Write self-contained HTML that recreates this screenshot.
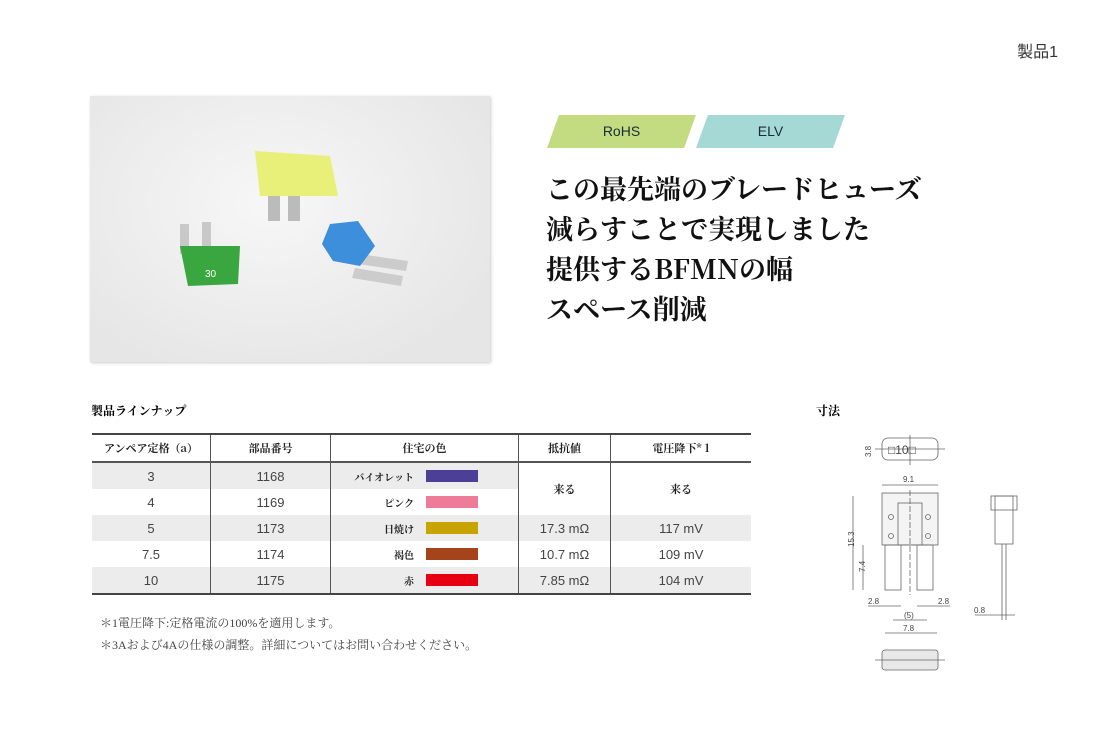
<!DOCTYPE html>
<html><head><meta charset="utf-8"><style>
body{margin:0;width:1098px;height:739px;background:#fff;position:relative;font-family:"Liberation Serif","Noto Serif CJK SC",serif;overflow:hidden}
.abs{position:absolute}
.badge{position:absolute;top:115px;height:33px;width:149px;font:14px "Liberation Sans","Noto Sans CJK JP",sans-serif;color:#1a2a3a;text-align:center;line-height:33px}
h1{position:absolute;left:546px;top:168px;margin:0;font:bold 27px/40px "Noto Serif CJK SC","Liberation Serif",serif;color:#111;letter-spacing:0px}
table{position:absolute;left:92px;top:433px;width:659px;border-collapse:collapse;font-size:13px;color:#222}
td,th{text-align:center;height:26px;padding:0;border-left:1px solid #555}
td:first-child,th:first-child{border-left:none}
th{font-weight:bold;font-size:11px;height:26px;border-bottom:2px solid #555;font-family:"Noto Serif CJK SC",serif}
table{border-top:2px solid #444;border-bottom:2px solid #444}
tr.g td.gr{background:#ececec}
td.n{font-family:"Liberation Sans","Noto Sans CJK JP",sans-serif;color:#444}
.c{display:flex;justify-content:flex-end;align-items:center;padding-right:40px;font-size:10px;font-weight:bold;font-family:"Noto Serif CJK SC",serif}
.c span{display:inline-block;width:52px;height:12px;margin-left:12px}
</style></head><body>
<div class="abs" style="right:40px;top:38px;font:16px 'Liberation Sans','Noto Sans CJK JP',sans-serif;color:#333">製品1</div>
<div class="abs" style="left:90px;top:96px;width:400px;height:266px;background:radial-gradient(ellipse at 45% 40%,#f7f7f7,#e6e6e6 80%);box-shadow:1px 1px 3px #ccc"></div>
<svg class="abs" style="left:90px;top:96px" width="400" height="266">
<rect x="178" y="100" width="12" height="25" fill="#bbb"/><rect x="198" y="100" width="12" height="25" fill="#bbb"/>
<path d="M165 55 L240 60 L248 100 L170 100 Z" fill="#e8f07a"/>
<rect x="90" y="128" width="9" height="30" fill="#c8c8c8"/><rect x="112" y="126" width="9" height="30" fill="#c8c8c8"/>
<path d="M90 150 L150 150 L148 188 L98 190 Z" fill="#3aa63f"/><text x="115" y="181" font-size="10" fill="#fff" font-family="Liberation Sans">30</text>
<path d="M270 158 L318 165 L316 175 L268 168 Z" fill="#ccc"/><path d="M265 172 L313 180 L311 190 L262 182 Z" fill="#ccc"/>
<path d="M240 128 L268 125 L285 150 L270 170 L243 165 L232 148 Z" fill="#3d8fdc"/>
</svg>
<div class="badge" style="left:547px;background:#c3dc82;clip-path:polygon(8% 0,100% 0,92% 100%,0 100%)">RoHS</div>
<div class="badge" style="left:696px;background:#a5d9d6;clip-path:polygon(8% 0,100% 0,92% 100%,0 100%)">ELV</div>
<h1>この最先端のブレードヒューズ<br>減らすことで実現しました<br>提供するBFMNの幅<br>スペース削減</h1>
<div class="abs" style="left:91px;top:402px;font-size:12px;font-weight:bold;font-family:'Noto Serif CJK SC',serif">製品ラインナップ</div>
<div class="abs" style="left:816px;top:402px;font-size:12px;font-weight:bold;font-family:'Noto Serif CJK SC',serif">寸法</div>
<table>
<tr><th style="width:118px">アンペア定格（a）</th><th style="width:119px">部品番号</th><th style="width:187px">住宅の色</th><th style="width:91px">抵抗値</th><th>電圧降下* 1</th></tr>
<tr class="g"><td class="n gr">3</td><td class="n gr">1168</td><td class="gr"><div class="c">バイオレット<span style="background:#4b3f98"></span></div></td><td rowspan="2" style="font-weight:bold;font-size:11px">来る</td><td rowspan="2" style="font-weight:bold;font-size:11px">来る</td></tr>
<tr><td class="n">4</td><td class="n">1169</td><td><div class="c">ピンク<span style="background:#ee7b98"></span></div></td></tr>
<tr class="g"><td class="n gr">5</td><td class="n gr">1173</td><td class="gr"><div class="c">日焼け<span style="background:#c9a400"></span></div></td><td class="n gr">17.3 mΩ</td><td class="n gr">117 mV</td></tr>
<tr><td class="n">7.5</td><td class="n">1174</td><td><div class="c">褐色<span style="background:#a5431a"></span></div></td><td class="n">10.7 mΩ</td><td class="n">109 mV</td></tr>
<tr class="g"><td class="n gr">10</td><td class="n gr">1175</td><td class="gr"><div class="c">赤<span style="background:#e60012"></span></div></td><td class="n gr">7.85 mΩ</td><td class="n gr">104 mV</td></tr>
</table>
<div class="abs" style="left:100px;top:612px;font-size:12px;color:#444;line-height:22px">＊1電圧降下:定格電流の100%を適用します。<br>＊3Aおよび4Aの仕様の調整。詳細についてはお問い合わせください。</div>
<svg class="abs" style="left:820px;top:430px" width="230" height="250" font-family="Liberation Sans" font-size="8" fill="#444" stroke="#666" stroke-width="0.8">
<rect x="62" y="8" width="56" height="22" rx="6" fill="none"/><line x1="55" y1="19" x2="125" y2="19"/><line x1="90" y1="5" x2="90" y2="35"/>
<text x="68" y="24" font-size="12" stroke="none">□10□</text><text x="40" y="22" stroke="none" transform="rotate(-90 48 19)">3.8</text>
<rect x="62" y="63" width="56" height="52" fill="#f4f4f4"/><rect x="78" y="73" width="24" height="42" fill="none"/>
<circle cx="71" cy="87" r="2.5" fill="none"/><circle cx="71" cy="106" r="2.5" fill="none"/><circle cx="108" cy="87" r="2.5" fill="none"/><circle cx="108" cy="106" r="2.5" fill="none"/>
<rect x="65" y="115" width="16" height="45" fill="none"/><rect x="97" y="115" width="16" height="45" fill="none"/>
<line x1="62" y1="55" x2="118" y2="55"/><text x="83" y="52" stroke="none">9.1</text>
<line x1="33" y1="66" x2="33" y2="160"/><text x="27" y="118" stroke="none" transform="rotate(-90 30 114)">15.3</text>
<line x1="43" y1="115" x2="43" y2="160"/><text x="38" y="145" stroke="none" transform="rotate(-90 40 140)">7.4</text>
<line x1="90" y1="60" x2="90" y2="165" stroke-dasharray="6 2"/>
<line x1="48" y1="176" x2="81" y2="176"/><line x1="97" y1="176" x2="130" y2="176"/><text x="48" y="174" stroke="none">2.8</text><text x="118" y="174" stroke="none">2.8</text>
<line x1="73" y1="190" x2="107" y2="190"/><text x="84" y="188" stroke="none">(5)</text>
<line x1="65" y1="203" x2="117" y2="203"/><text x="83" y="201" stroke="none">7.8</text>
<rect x="62" y="220" width="56" height="20" rx="3" fill="#e8e8e8"/><line x1="55" y1="230" x2="125" y2="230"/>
<rect x="171" y="66" width="26" height="14" fill="none"/><rect x="175" y="66" width="18" height="48" fill="none"/>
<line x1="182" y1="114" x2="182" y2="190"/><line x1="186" y1="114" x2="186" y2="190"/>
<line x1="155" y1="185" x2="195" y2="185"/><text x="154" y="183" stroke="none">0.8</text>
</svg>
</body></html>
